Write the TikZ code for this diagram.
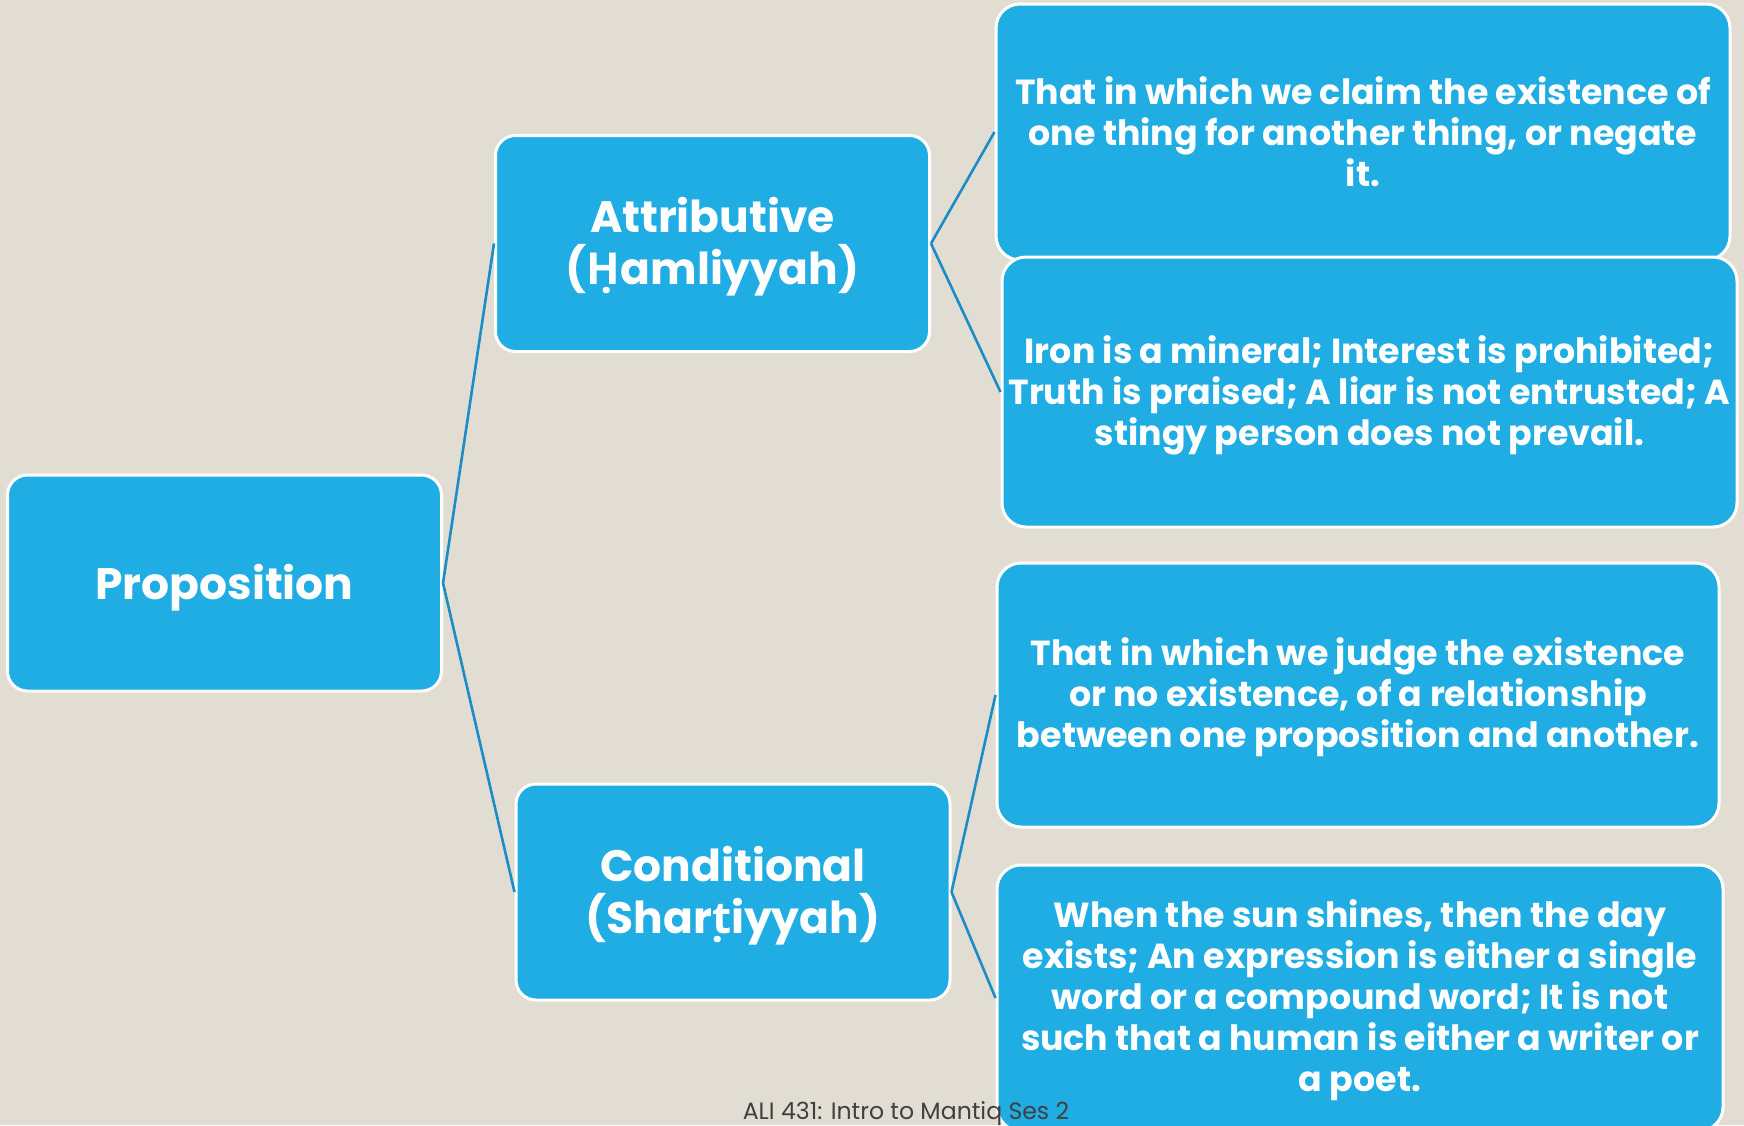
\documentclass[tikz,border=0pt]{standalone}
\usepackage{fontspec}
\setmainfont{Poppins}
% Poppins has no dotted-below letters; these come from Open Sans
\newfontfamily\accfont{Open Sans}
\definecolor{bgpaper}{RGB}{226,221,210}
\definecolor{boxblue}{RGB}{31,173,227}
\definecolor{linkblue}{RGB}{27,141,198}
\definecolor{footgray}{RGB}{64,64,64}
% centred lines set exactly one \baselineskip apart; the space #1 above
% them pushes the lines down by half of it inside their box
\newcommand\boxlines[2]{\vbox{\kern#1\lineskiplimit=-100pt\lineskip=0pt
  \let\\\cr\halign{\hfil##\hfil\cr#2\cr}}}
\begin{document}
\begin{tikzpicture}[x=0.5pt,y=-0.5pt,
  box/.style={rectangle, rounded corners=10pt, fill=boxblue, draw=white,
    line width=1.5pt, text=white, inner sep=0pt},
  headbox/.style={box, minimum width=217pt, minimum height=108pt,
    font=\bfseries\fontsize{22}{26}\selectfont},
  notebox/.style={box, rounded corners=12pt,
    font=\bfseries\fontsize{17.4}{20.5}\selectfont},
  conn/.style={draw=linkblue, line width=1.3pt}]
  % page background
  \fill[bgpaper] (0,0) rectangle (1744,1125);
  \useasboundingbox (0,0) rectangle (1744,1125);

  % left-hand categories
  \node[headbox] (prop) at (224.5,583) {\boxlines{4.5pt}{Proposition}};
  \node[headbox] (attr) at (712.5,243.5)
    {\boxlines{2.8pt}{Attributive\\({\accfont Ḥ}amliyyah)}};
  \node[headbox] (cond) at (733,892)
    {\boxlines{3.4pt}{Conditional\\(Shar{\accfont ṭ}iyyah)}};

  % definitions and examples
  \node[notebox, minimum width=367pt, minimum height=128pt] (attrdef) at (1363,132)
    {\boxlines{0pt}{That in which we claim the existence of\\one thing for another thing, or negate\\it.}};
  \node[notebox, minimum width=367.5pt, minimum height=135pt] (attrex) at (1369.5,392)
    {\boxlines{3.4pt}{Iron is a mineral; Interest is prohibited;\\Truth is praised; A liar is not entrusted; A\\stingy person does not prevail.}};
  \node[notebox, minimum width=361pt, minimum height=132pt] (conddef) at (1358,695)
    {\boxlines{2.2pt}{That in which we judge the existence\\or no existence, of a relationship\\between one proposition and another.}};
  \node[notebox, minimum width=363pt, minimum height=133pt] (condex) at (1360,998)
    {\boxlines{2.2pt}{When the sun shines, then the day\\exists; An expression is either a single\\word or a compound word; It is not\\such that a human is either a writer or\\a poet.}};

  % connectors
  \draw[conn] (prop.east) -- (attr.west);
  \draw[conn] (prop.east) -- (cond.west);
  \draw[conn] (attr.east) -- (attrdef.west);
  \draw[conn] (attr.east) -- (attrex.west);
  \draw[conn] (cond.east) -- (conddef.west);
  \draw[conn] (cond.east) -- (condex.west);

  % footer
  \node[text=footgray, font=\fontsize{11.8}{13}\selectfont, anchor=base, inner sep=0pt]
    (foot) at (906,1119) {ALI 431: Intro to Mantiq Ses 2};
\end{tikzpicture}
\end{document}
